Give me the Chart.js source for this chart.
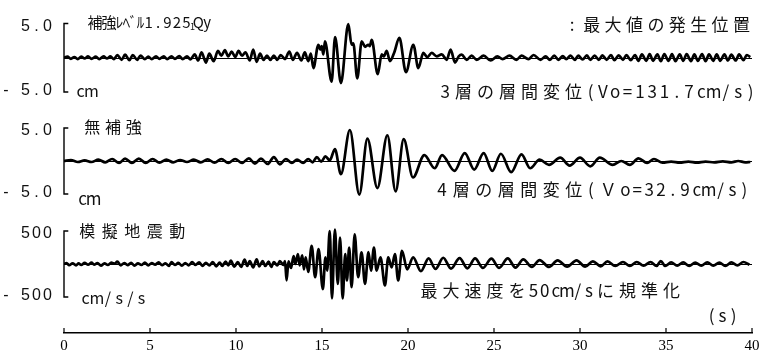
<!DOCTYPE html>
<html lang="ja">
<head>
<meta charset="utf-8">
<title>層間変位と模擬地震動</title>
<script src="https://cdn.jsdelivr.net/npm/chart.js@4.4.1/dist/chart.umd.min.js"></script>
<style>
  html, body { margin: 0; padding: 0; background: #fff; }
  #wrap { position: relative; width: 761px; height: 351px; }
</style>
</head>
<body>
<div id="wrap"><canvas id="chart"></canvas></div>
<script>
// ─── Datos ─────────────────────────────────────────────────────────────
const TIME_TICKS = [0, 5, 10, 15, 20, 25, 30, 35, 40];
const DISP_TICKS = [5.0, -5.0];
const ACC_TICKS = [500, -500];

// 3層の層間変位 (補強レベル 1.925 Qy), cm
const STORY3_T = [0.0, 0.2, 0.4, 0.6, 0.8, 1.0, 1.2, 1.4, 1.6, 1.85, 2.05, 2.3, 2.5, 2.7, 2.9,
  3.1, 3.35, 3.55, 3.8, 4.0, 4.25, 4.45, 4.7, 4.9, 5.1, 5.35, 5.55, 5.8, 6.0, 6.25, 6.45, 6.7,
  6.9, 7.15, 7.35, 7.6, 7.8, 8.0, 8.25, 8.45, 8.7, 8.95, 9.15, 9.35, 9.55, 9.75, 9.95, 10.15,
  10.35, 10.55, 10.8, 11.0, 11.2, 11.4, 11.6, 11.8, 12.0, 12.2, 12.4, 12.6, 12.85, 13.1, 13.3,
  13.55, 13.8, 14.0, 14.2, 14.35, 14.5, 14.79, 14.9, 14.98, 15.08, 15.17, 15.56, 15.76, 16.1,
  16.53, 16.72, 16.82, 17.05, 17.31, 17.5, 17.69, 17.78, 17.89, 18.24, 18.47, 18.6, 18.76,
  18.95, 19.19, 19.5, 19.88, 20.31, 20.6, 20.89, 21.12, 21.38, 21.67, 21.96, 22.25, 22.48,
  22.73, 22.95, 23.12, 23.41, 23.7, 24.0, 24.4, 24.8, 25.2, 25.5, 25.9, 26.3, 26.6, 27.0, 27.3,
  27.7, 28.0, 28.25, 28.5, 28.75, 29.0, 29.2, 29.45, 29.7, 29.9, 30.15, 30.4, 30.6, 30.85, 31.1,
  31.3, 31.55, 31.8, 32.0, 32.25, 32.5, 32.7, 32.95, 33.2, 33.4, 33.6, 33.85, 34.05, 34.25, 34.5,
  34.7, 34.9, 35.15, 35.35, 35.55, 35.8, 36.0, 36.2, 36.45, 36.65, 36.85, 37.1, 37.3, 37.5,
  37.75, 37.95, 38.15, 38.4, 38.6, 38.8, 39.05, 39.25, 39.5, 39.7, 39.9];
const STORY3_V = [0, 0.15, -0.15, 0.1, -0.2, 0.15, -0.1, 0.2, -0.15, 0.15, -0.2, 0.2, -0.1, 0.2, -0.2,
  0.4, -0.3, 0.45, -0.35, 0.4, -0.3, 0.3, -0.2, 0.15, -0.2, 0.2, -0.15, 0.2, -0.2, 0.2, -0.15, 0.25,
  -0.2, 0.2, -0.25, 0.5, -0.4, 0.8, -0.7, 0.6, -0.5, 1.0, 0.3, 1.1, 0.2, 0.9, 0.1, 1.0,
  0.3, 0.8, -0.4, 1.2, -0.6, 0.6, -0.3, 0.3, -0.3, 0.3, -0.3, 0.4, -0.2, 0.9, -0.3,
  0.7, -0.4, 0.8, -0.5, 0.6, -1.5, 1.9, 1.2, 1.7, 0.5, 2.4, -3.5, 3.0, -3.7,
  4.9, 1.9, 2.1, -3.0, 2.4, 1.6, 1.9, 1.7, 2.6, -2.4, 0.5, 0.2, 1.0,
  -0.5, 0.7, 2.9, -2.1, 1.9, -1.5, 0.7, 0.1, 0.7, 0.2, 0.5, -0.3, 1.2,
  -0.7, 0.2, 0.45, -0.3, 0.3, -0.3, 0.3, -0.4, 0.2, -0.2, 0.3, -0.3, 0.3, -0.2, 0.4,
  -0.3, 0.2, -0.3, 0.3, -0.3, 0.25, -0.2, 0.3, -0.3, 0.3, -0.25, 0.35, -0.3, 0.3, -0.3,
  0.35, -0.3, 0.4, -0.35, 0.35, -0.3, 0.4, -0.35, 0.4, -0.45, 0.5, -0.45, 0.55, -0.45, 0.5,
  -0.5, 0.55, -0.45, 0.55, -0.5, 0.5, -0.45, 0.55, -0.5, 0.5, -0.45, 0.55, -0.5, 0.5,
  -0.45, 0.5, -0.45, 0.5, -0.4, 0.45, -0.4, 0.5, -0.35, 0.4, 0.1];

// 4層の層間変位 (無補強), cm
const STORY4_T = [0.0, 0.4, 0.8, 1.2, 1.6, 2.0, 2.4, 2.8, 3.2, 3.55, 3.95, 4.35, 4.75, 5.15, 5.55,
  5.95, 6.35, 6.75, 7.15, 7.55, 7.95, 8.35, 8.75, 9.15, 9.55, 9.95, 10.35, 10.75, 11.1, 11.45,
  11.85, 12.2, 12.55, 12.9, 13.25, 13.55, 13.9, 14.2, 14.45, 14.7, 14.95, 15.2, 15.45, 15.75,
  16.1, 16.62, 17.17, 17.64, 18.22, 18.8, 19.28, 19.75, 20.29, 20.95, 21.55, 21.98, 22.7, 23.3,
  23.85, 24.4, 24.9, 25.4, 26.0, 26.6, 27.1, 27.65, 28.2, 28.85, 29.4, 30.0, 30.6, 31.15, 31.9,
  32.4, 32.9, 33.4, 33.9, 34.3, 34.8, 35.3, 35.8, 36.3, 36.8, 37.3, 37.8, 38.3, 38.8, 39.2,
  39.6, 39.9];
const STORY4_V = [0, 0.15, -0.15, 0.1, -0.15, 0.2, -0.2, 0.3, -0.3, 0.35, -0.3, 0.35, -0.3, 0.3, -0.25,
  0.2, -0.2, 0.15, -0.15, 0.2, -0.2, 0.25, -0.25, 0.3, -0.3, 0.3, -0.3, 0.4, -0.4, 0.35,
  -0.45, 0.6, -0.5, 0.3, -0.3, 0.2, -0.3, 0.3, -0.2, 0.6, -0.1, 0.7, 0.1, 1.8,
  -2.0, 4.7, -5.1, 3.4, -4.1, 3.9, -4.6, 3.3, -2.5, 0.9, -1.1, 0.9, -1.5, 1.2,
  -1.3, 1.2, -1.5, 1.1, -1.7, 1.0, -1.1, 0.2, -0.6, 0.5, -0.7, 0.5, -0.8, 0.5, -0.6,
  0.0, -0.6, 0.4, -0.3, 0.3, -0.25, -0.1, -0.25, -0.1, -0.25, -0.1, -0.2, -0.05, -0.2, 0.0,
  -0.2, -0.15];

// 模擬地震動 (最大速度を50cm/sに規準化), cm/s/s
const GROUND_T = [0.0, 0.15, 0.3, 0.5, 0.7, 0.85, 1.0, 1.2, 1.4, 1.6, 1.75, 1.95, 2.15, 2.35, 2.55,
  2.75, 2.95, 3.1, 3.3, 3.5, 3.7, 3.9, 4.1, 4.3, 4.5, 4.7, 4.9, 5.1, 5.3, 5.5, 5.7, 5.9, 6.1, 6.25,
  6.45, 6.65, 6.85, 7.05, 7.25, 7.45, 7.65, 7.85, 8.05, 8.25, 8.45, 8.65, 8.85, 9.05, 9.2, 9.4,
  9.55, 9.7, 9.9, 10.1, 10.3, 10.5, 10.65, 10.8, 11.0, 11.2, 11.35, 11.55, 11.7, 11.9, 12.05,
  12.2, 12.4, 12.55, 12.75, 12.85, 12.94, 13.05, 13.2, 13.35, 13.45, 13.6, 13.7, 13.85, 13.95,
  14.05, 14.2, 14.4, 14.6, 14.8, 15.05, 15.2, 15.3, 15.45, 15.58, 15.75, 15.92, 16.05, 16.2,
  16.35, 16.45, 16.58, 16.72, 16.9, 17.1, 17.3, 17.5, 17.7, 17.85, 18.02, 18.17, 18.4, 18.66,
  18.85, 19.05, 19.24, 19.43, 19.65, 19.95, 20.3, 20.75, 21.2, 21.6, 22.05, 22.5, 23.0, 23.45,
  23.9, 24.35, 24.85, 25.3, 25.8, 26.25, 26.7, 27.2, 27.65, 28.2, 28.7, 29.25, 29.8, 30.3, 30.75,
  31.2, 31.6, 32.05, 32.5, 32.9, 33.3, 33.7, 34.1, 34.45, 34.7, 34.95, 35.3, 35.65, 36.0, 36.35,
  36.7, 37.05, 37.4, 37.75, 38.1, 38.45, 38.8, 39.15, 39.5, 39.85];
const GROUND_V = [0, 15, -18, 10, -20, 8, -15, 18, -10, 20, -8, 15, -25, 10, -15,
  20, 5, 35, -20, 15, -18, 18, -25, 8, -15, 20, -20, 15, -10, 25, -18, 10, -28, 30,
  -15, 18, -25, 15, -20, 28, -15, 25, -28, 18, -20, 30, -35, 20, -28, 35,
  -20, 50, -40, 30, -45, 65, -30, 45, -50, 70, -35, 45, -30, 35, -45,
  30, -20, 45, -15, 45, -250, 40, -60, 120, 0, 150, -20, 130, -80,
  100, -120, 275, -200, 225, -380, 100, -100, 500, -520, 520, -300, 400, -520,
  150, -250, 250, -350, 450, -200, 175, -300, 180, -100, 250, -100, 100, -325,
  100, -50, 150, -250, 200, -80, 100, -110, 85, -75, 95, -70, 90, -65,
  85, -60, 80, -60, 85, -55, 70, -45, 60, -45, 55, -40, 55, -40, 40,
  -35, 40, -30, 30, -30, 30, -25, 30, -30, 45, -30, 25, -25, 25, -30,
  20, -25, 25, -25, 20, -30, 25, -20, 30, -10];

// ─── Maquetación ───────────────────────────────────────────────────────
const AREA_BOTTOM = 333;   // línea del eje de tiempo (px)
const STUB = 0.25;         // largo de los remates del corchete (s)
const TICK_PX = 5;         // alto de las marcas del eje de tiempo (px)

// cada panel: valores de los extremos del corchete y su posición en px
const PANELS = [
  { id: 'y1', hi: 5, lo: -5, pTop: 23.5, pBot: 92, ticks: DISP_TICKS, digits: 1 },
  { id: 'y2', hi: 5, lo: -5, pTop: 128, pBot: 194, ticks: DISP_TICKS, digits: 1 },
  { id: 'y3', hi: 500, lo: -500, pTop: 231, pBot: 297, ticks: ACC_TICKS, digits: 0 }
];

function rangeFor(p) {
  const span = (p.hi - p.lo) * AREA_BOTTOM / (p.pBot - p.pTop);
  const max = p.hi + p.pTop * span / AREA_BOTTOM;
  return { min: max - span, max: max, span: span };
}

function toPoints(ts, vs) {
  return ts.map((t, i) => ({ x: t, y: vs[i] }));
}

const JP = '"Noto Sans CJK JP", sans-serif';

// textos: cada carácter en su celda (paso fijo, como en el original)
const TEXTS = [
  { s: '補強ﾚﾍﾞﾙ1.925', x: 88, y: 22, size: 15, full: 14, half: 9.4, kana: 7 },
  { s: '1', x: 190, y: 27, size: 9, full: 5, half: 5 },
  { s: 'Qy', x: 194, y: 22, size: 15, full: 9, half: 8.7 },
  { s: ':', x: 567, y: 25, size: 17, full: 10, half: 10 },
  { s: '最大値の発生位置', x: 581, y: 25, size: 17, full: 21.4, half: 11 },
  { s: 'cm', x: 75, y: 91, size: 16, full: 11, half: 11 },
  { s: '3', x: 439, y: 92, size: 17, full: 22, half: 12.3 },
  { s: '層の層間変位(Vo=131.7cm/s)', x: 452.5, y: 92, size: 17, full: 22, half: 12.3 },
  { s: '無補強', x: 82, y: 127, size: 16, full: 20.7, half: 10 },
  { s: 'cm', x: 77, y: 199, size: 17, full: 11, half: 11 },
  { s: '4', x: 436, y: 190, size: 17, full: 22.5, half: 11.9 },
  { s: '層の層間変位(Ｖo=32.9cm/s)', x: 450, y: 190, size: 17, full: 22.5, half: 11.9 },
  { s: '模擬地震動', x: 76, y: 231, size: 16, full: 22.5, half: 11 },
  { s: 'cm/s/s', x: 80, y: 298, size: 16, full: 11.2, half: 11.2 },
  { s: '最大速度を50cm/sに規準化', x: 418, y: 291, size: 17, full: 22, half: 11.1 },
  { s: '(s)', x: 706, y: 316, size: 17, full: 11, half: 11 }
];

function isHalfKana(ch) {
  const c = ch.codePointAt(0);
  return c >= 0xFF61 && c <= 0xFF9F;
}

function drawPitched(ctx, t) {
  ctx.font = t.size + 'px ' + JP;
  ctx.textAlign = 'center';
  ctx.textBaseline = 'middle';
  let x = t.x;
  for (const ch of t.s) {
    const w = isHalfKana(ch) ? t.kana : (ch.codePointAt(0) > 0x2000 ? t.full : t.half);
    ctx.fillText(ch, x + w / 2, t.y);
    x += w;
  }
}

// líneas de cero y rótulos
const decor = {
  id: 'decor',
  beforeDatasetsDraw(chart) {
    const { ctx, chartArea } = chart;
    ctx.save();
    ctx.fillStyle = '#000';
    PANELS.forEach(p => {
      const y0 = Math.round(chart.scales[p.id].getPixelForValue(0));
      ctx.fillRect(chartArea.left, y0, chartArea.right - chartArea.left, 1);
    });
    ctx.restore();
  },
  afterDraw(chart) {
    const { ctx } = chart;
    ctx.save();
    ctx.fillStyle = '#111';
    ctx.font = '16px "Liberation Sans", sans-serif';
    ctx.textAlign = 'center';
    ctx.textBaseline = 'middle';
    PANELS.forEach(p => {
      const sc = chart.scales[p.id];
      p.ticks.forEach(v => {
        const yy = sc.getPixelForValue(v) + (v > 0 ? 3 : -1);
        const s = Math.abs(v).toFixed(p.digits);
        let x = 53 - s.length * 11;
        for (const ch of s) { ctx.fillText(ch, x + 5.5, yy); x += 11; }
        if (v < 0) ctx.fillText('-', 6, yy);
      });
    });

    TEXTS.forEach(t => drawPitched(ctx, t));
    ctx.restore();
  }
};

const scales = {
  x: {
    type: 'linear',
    min: 0,
    max: 40,
    position: 'bottom',
    afterBuildTicks: s => { s.ticks = TIME_TICKS.map(v => ({ value: v })); },
    ticks: {
      color: '#000',
      font: { family: '"Liberation Serif", serif', size: 15, lineHeight: 1.6 },
      padding: 1,
      maxRotation: 0,
      autoSkip: false
    },
    grid: { display: false, drawTicks: false },
    border: { display: true, color: '#000', width: 1.5 }
  }
};
const ranges = {};
PANELS.forEach(p => {
  const r = rangeFor(p);
  ranges[p.id] = r;
  scales[p.id] = { type: 'linear', display: false, bounds: 'data', min: r.min, max: r.max };
});

function series(ts, vs, axis) {
  return {
    data: toPoints(ts, vs),
    yAxisID: axis,
    borderColor: '#000',
    borderWidth: 2.7,
    pointRadius: 0,
    fill: false,
    cubicInterpolationMode: 'monotone'
  };
}

// corchete del eje y de cada panel, trazado con sus propias escalas
function bracket(p) {
  const hi = p.ticks[0], lo = p.ticks[p.ticks.length - 1];
  return {
    data: [{ x: STUB, y: hi }, { x: 0, y: hi }, { x: 0, y: lo }, { x: STUB, y: lo }],
    yAxisID: p.id,
    borderColor: '#000',
    borderWidth: 1.4,
    pointRadius: 0,
    tension: 0,
    fill: false,
    clip: false
  };
}

// marcas del eje de tiempo, hacia dentro (sobre la escala del panel inferior)
function timeTicks() {
  const r = ranges.y3;
  const h = TICK_PX * r.span / AREA_BOTTOM;
  const pts = [];
  TIME_TICKS.forEach(v => {
    pts.push({ x: v, y: r.min }, { x: v, y: r.min + h }, { x: v, y: null });
  });
  return {
    data: pts,
    yAxisID: 'y3',
    borderColor: '#000',
    borderWidth: 1.2,
    pointRadius: 0,
    tension: 0,
    spanGaps: false,
    fill: false,
    clip: false
  };
}

new Chart(document.getElementById('chart'), {
  type: 'line',
  data: {
    datasets: [
      series(STORY3_T, STORY3_V, 'y1'),
      series(STORY4_T, STORY4_V, 'y2'),
      series(GROUND_T, GROUND_V, 'y3'),
      ...PANELS.map(bracket),
      timeTicks()
    ]
  },
  options: {
    responsive: true,
    maintainAspectRatio: false,
    animation: false,
    events: [],
    layout: { padding: { left: 64, right: 9, top: 0, bottom: -8 } },
    plugins: { legend: { display: false }, tooltip: { enabled: false } },
    scales
  },
  plugins: [decor]
});
</script>
</body>
</html>
